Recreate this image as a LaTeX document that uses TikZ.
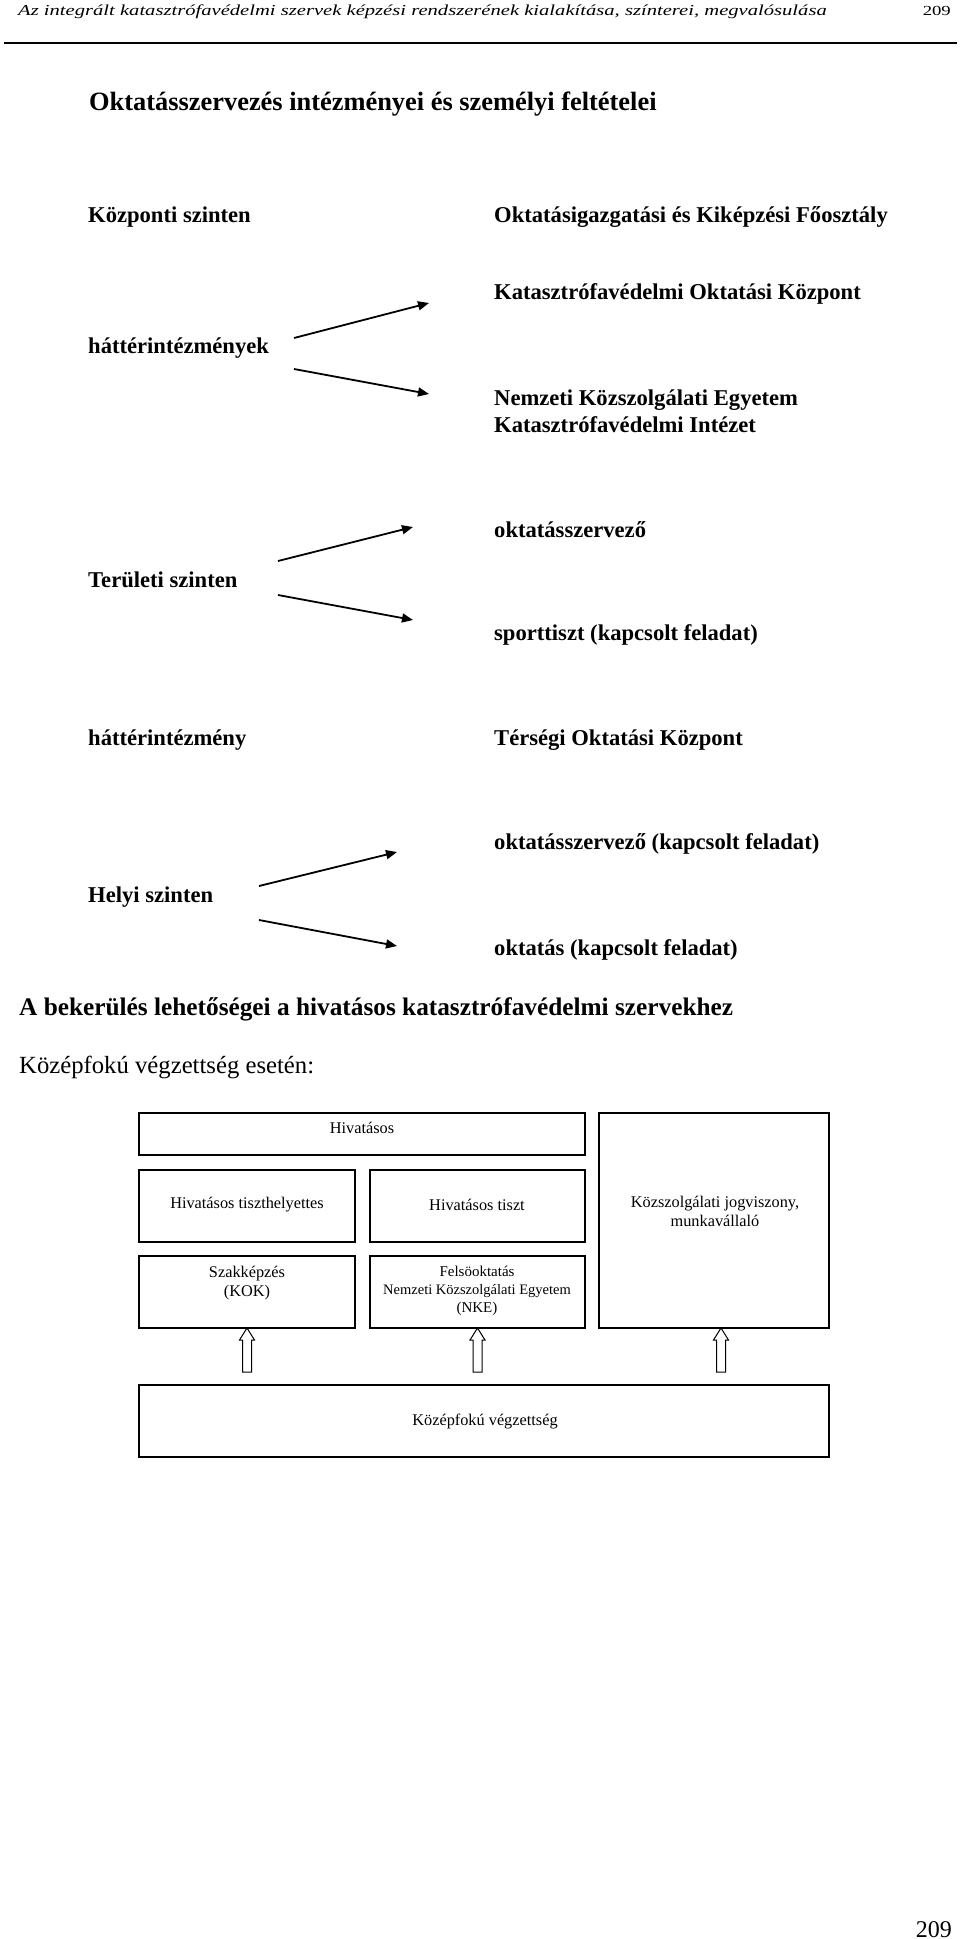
\documentclass[tikz,border=0pt]{standalone}
\usepackage{fontspec}
\usepackage{graphicx}
\setmainfont{Liberation Serif}
\usetikzlibrary{arrows.meta,calc}
\newcommand\hollowup[2]{\draw[harrow] (#1) -- ($(#1)+(-7.5,12)$) -- ($(#1)+(-4.5,12)$) -- ($(#2)+(-4.5,0)$) -- ($(#2)+(4.5,0)$) -- ($(#1)+(4.5,12)$) -- ($(#1)+(7.5,12)$) -- cycle;}
\newcommand\squash[1]{\scalebox{1}[0.74]{#1}}
\begin{document}
\begin{tikzpicture}[x=1pt,y=-1pt,
  lab/.style={inner sep=0pt, anchor=west, font=\fontsize{22.6}{25}\selectfont\bfseries},
  arr/.style={line width=1.8pt, -{Triangle[length=11pt,width=9pt]}},
  box/.style={draw, line width=1.3pt, inner sep=0pt, outer sep=0pt, anchor=north west},
  btxt/.style={inner sep=0pt, align=center, font=\fontsize{16.3}{19}\selectfont},
  harrow/.style={draw, line width=1pt, fill=white, line join=miter}]
\useasboundingbox (0,0) rectangle (960,1939);
% page header
\node[anchor=base west, inner sep=0pt, font=\fontsize{20.6}{24}\selectfont\itshape] (hdr) at (18,15.5) {\squash{Az integrált katasztrófavédelmi szervek képzési rendszerének kialakítása, színterei, megvalósulása}};
\node[anchor=base east, inner sep=0pt, font=\fontsize{18.7}{22}\selectfont] (pg1) at (951,15.5) {\squash{209}};
\coordinate (rl) at (4,43);
\coordinate (rr) at (957,43);
\draw[line width=1.3pt] (rl) -- (rr);
% title
\node[lab, font=\fontsize{26.4}{30}\selectfont\bfseries] (title) at (89,104) {Oktatásszervezés intézményei és személyi feltételei};
% central level
\node[lab] (kozp) at (88,217) {Központi szinten};
\node[lab] (okig) at (494,217) {Oktatásigazgatási és Kiképzési Főosztály};
\node[lab] (kok) at (494,294) {Katasztrófavédelmi Oktatási Központ};
\node[lab] (hat1) at (88,348) {háttérintézmények};
\node[lab] (nke) at (494,400) {Nemzeti Közszolgálati Egyetem};
\node[lab] (kvi) at (494,425) {Katasztrófavédelmi Intézet};
\coordinate (a1s) at (294,338); \coordinate (a1e) at (429,303);
\coordinate (a2s) at (294,369); \coordinate (a2e) at (429,394);
\draw[arr] (a1s) -- (a1e);
\draw[arr] (a2s) -- (a2e);
% regional level
\node[lab] (oksz) at (494,530) {oktatásszervező};
\node[lab] (teru) at (88,580) {Területi szinten};
\node[lab] (sport) at (494,635) {sporttiszt (kapcsolt feladat)};
\coordinate (b1s) at (278,561); \coordinate (b1e) at (413,527);
\coordinate (b2s) at (278,595); \coordinate (b2e) at (413,620);
\draw[arr] (b1s) -- (b1e);
\draw[arr] (b2s) -- (b2e);
\node[lab] (hat2) at (88,740) {háttérintézmény};
\node[lab] (toks) at (494,740) {Térségi Oktatási Központ};
% local level
\node[lab] (oksz2) at (494,844) {oktatásszervező (kapcsolt feladat)};
\node[lab] (helyi) at (88,897) {Helyi szinten};
\node[lab] (oktatas) at (494,950) {oktatás (kapcsolt feladat)};
\coordinate (c1s) at (259,886); \coordinate (c1e) at (397,852);
\coordinate (c2s) at (259,920); \coordinate (c2e) at (397,946);
\draw[arr] (c1s) -- (c1e);
\draw[arr] (c2s) -- (c2e);
% second part
\node[lab, font=\fontsize{25.3}{29}\selectfont\bfseries] (head2) at (19,1009) {A bekerülés lehetőségei a hivatásos katasztrófavédelmi szervekhez};
\node[lab, font=\fontsize{24.7}{29}\selectfont] (sub) at (19,1067) {Középfokú végzettség esetén:};
% boxes
\node[box, minimum width=446, minimum height=42] (hivb) at (139,1113) {};
\node[box, minimum width=216, minimum height=72] (tiszth) at (139,1170) {};
\node[box, minimum width=215, minimum height=72] (tiszt) at (370,1170) {};
\node[box, minimum width=230, minimum height=215] (kozsz) at (599,1113) {};
\node[box, minimum width=216, minimum height=72] (szak) at (139,1256) {};
\node[box, minimum width=215, minimum height=72] (felso) at (370,1256) {};
\node[box, minimum width=690, minimum height=72] (kozep) at (139,1385) {};
\node[btxt] (thiv) at (362,1128) {Hivatásos};
\node[btxt] (ttiszth) at (247,1205) {Hivatásos tiszthelyettes};
\node[btxt] (ttiszt) at (477,1205) {Hivatásos tiszt};
\node[btxt] (tkozsz) at (715,1211) {Közszolgálati jogviszony,\\munkavállaló};
\node[btxt, font=\fontsize{16.3}{19}\selectfont] (tszak) at (247,1283) {Szakképzés\\(KOK)};
\node[btxt, font=\fontsize{15}{18}\selectfont] (tfelso) at (477,1291) {Felsöoktatás\\{\fontsize{14.5}{18}\selectfont Nemzeti Közszolgálati Egyetem}\\(NKE)};
\node[btxt] (tkozep) at (485,1422) {Középfokú végzettség};
% hollow arrows
\coordinate (u1t) at (szak.south);
\coordinate (u1s) at ($(kozep.north -| u1t)+(0,-13)$);
\coordinate (u2t) at (felso.south);
\coordinate (u2s) at ($(kozep.north -| u2t)+(0,-13)$);
\coordinate (u3t) at ($(kozsz.south)+(7,0)$);
\coordinate (u3s) at ($(kozep.north -| u3t)+(0,-13)$);
\hollowup{u1t}{u1s}
\hollowup{u2t}{u2s}
\hollowup{u3t}{u3s}
% page number
\node[anchor=base east, inner sep=0pt, font=\fontsize{24}{28}\selectfont] (pg2) at (952,1937) {209};
\end{tikzpicture}
\end{document}
